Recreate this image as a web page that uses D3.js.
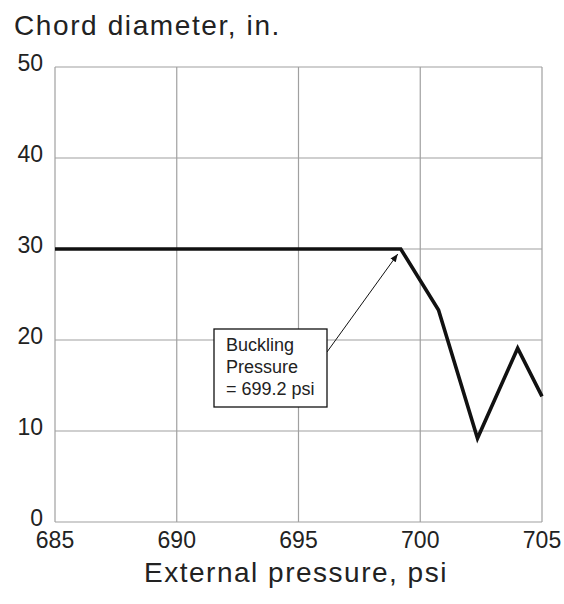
<!DOCTYPE html>
<html>
<head>
<meta charset="utf-8">
<script src="https://cdn.jsdelivr.net/npm/d3@7"></script>
<style>
  body { margin: 0; background: #fff; }
  text { font-family: "Liberation Sans", Arial, sans-serif; fill: #222; }
</style>
</head>
<body>
<div id="chart"></div>
<script>
// chart values
const pressure = [685, 699.2, 700.75, 702.35, 704.0, 705];
const chord = [30, 30, 23.3, 9.2, 19.1, 13.8];
const xTicks = [685, 690, 695, 700, 705];
const yTicks = [0, 10, 20, 30, 40, 50];
const noteLines = ["Buckling", "Pressure", "= 699.2 psi"];
const buckling = {x: 699.2, y: 30};

const width = 564, height = 604;
const margin = {top: 67, right: 22, bottom: 82, left: 55};

const svg = d3.select('#chart').append('svg')
    .attr('width', width)
    .attr('height', height);

const x = d3.scaleLinear().domain([685, 705]).range([margin.left, width - margin.right]);
const y = d3.scaleLinear().domain([0, 50]).range([height - margin.bottom, margin.top]);

// grid
const grid = svg.append('g').attr('stroke', '#a0a0a0').attr('stroke-width', 1.2);
grid.selectAll('.vx').data(xTicks).join('line')
    .attr('x1', d => x(d)).attr('x2', d => x(d))
    .attr('y1', y(0)).attr('y2', y(50));
grid.selectAll('.hy').data(yTicks).join('line')
    .attr('x1', x(685)).attr('x2', x(705))
    .attr('y1', d => y(d)).attr('y2', d => y(d));

// tick labels
svg.append('g').selectAll('text').data(yTicks).join('text')
    .attr('x', 43)
    .attr('y', d => y(d) + 4)
    .attr('text-anchor', 'end')
    .attr('font-size', 23)
    .text(d => d);

svg.append('g').selectAll('text').data(xTicks).join('text')
    .attr('x', d => x(d))
    .attr('y', y(0) + 26)
    .attr('text-anchor', 'middle')
    .attr('font-size', 23)
    .text(d => d);

// titles
svg.append('text')
    .attr('x', 14).attr('y', 35)
    .attr('font-size', 28)
    .attr('letter-spacing', 1.6)
    .text('Chord diameter, in.');

svg.append('text')
    .attr('x', 296).attr('y', 582)
    .attr('text-anchor', 'middle')
    .attr('font-size', 28)
    .attr('letter-spacing', 1.5)
    .text('External pressure, psi');

// data line
const line = d3.line().x((d, i) => x(d)).y((d, i) => y(chord[i]));
svg.append('path')
    .attr('d', line(pressure))
    .attr('fill', 'none')
    .attr('stroke', '#111')
    .attr('stroke-width', 3.6)
    .attr('stroke-linejoin', 'miter');

// annotation
svg.append('defs').append('marker')
    .attr('id', 'arrow')
    .attr('viewBox', '0 0 10 10')
    .attr('refX', 10).attr('refY', 5)
    .attr('markerWidth', 8).attr('markerHeight', 8)
    .attr('orient', 'auto')
  .append('path')
    .attr('d', 'M0,1 L10,5 L0,9 z')
    .attr('fill', '#111');

const box = {x: 214, y: 329, w: 113, h: 78};
svg.append('line')
    .attr('x1', box.x + box.w).attr('y1', 352)
    .attr('x2', x(buckling.x) - 3).attr('y2', y(buckling.y) + 5)
    .attr('stroke', '#111')
    .attr('stroke-width', 1)
    .attr('marker-end', 'url(#arrow)');

svg.append('rect')
    .attr('x', box.x).attr('y', box.y)
    .attr('width', box.w).attr('height', box.h)
    .attr('fill', '#fff')
    .attr('stroke', '#111')
    .attr('stroke-width', 1.3);

svg.append('g').selectAll('text').data(noteLines).join('text')
    .attr('x', 226)
    .attr('y', (d, i) => 351 + i * 22)
    .attr('font-size', 18)
    .text(d => d);
</script>
</body>
</html>
